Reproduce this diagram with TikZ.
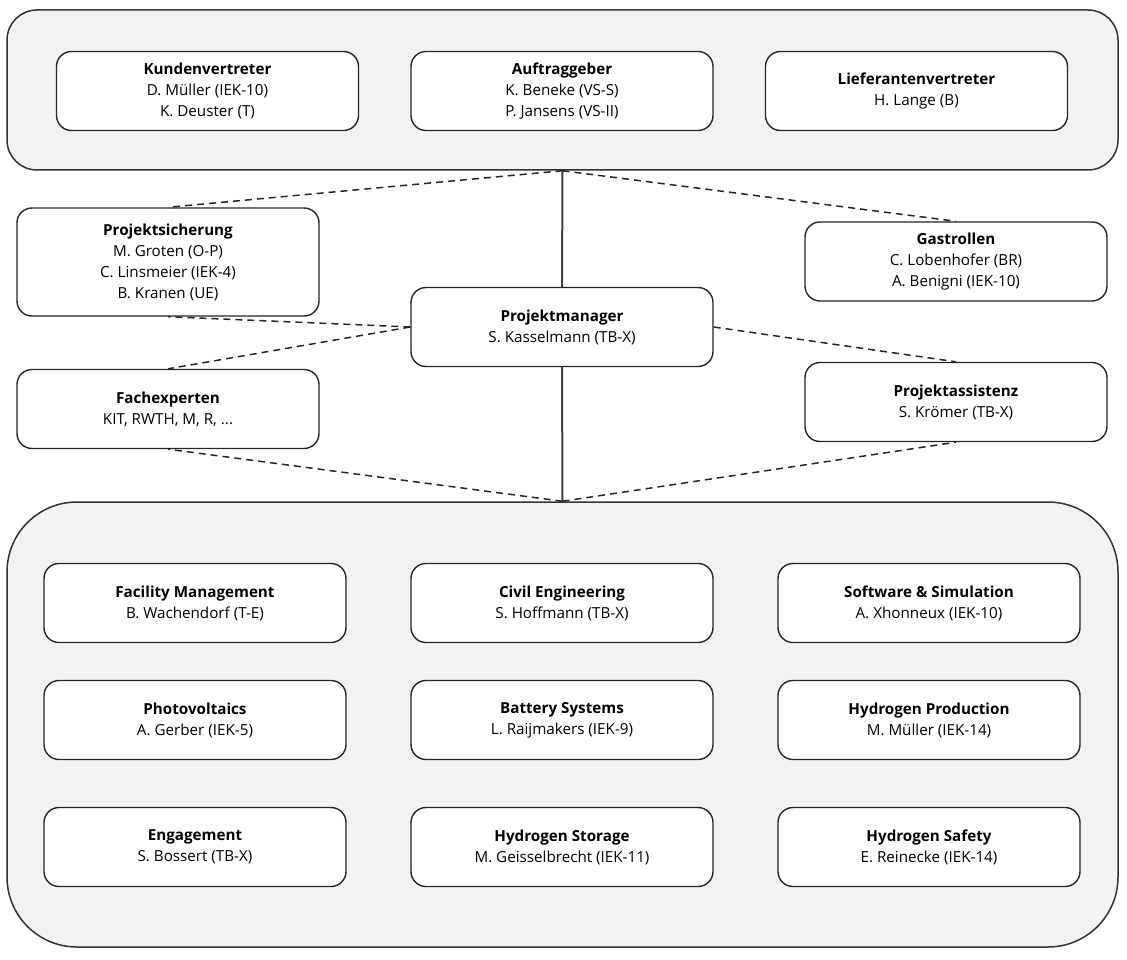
\documentclass[tikz,border=0pt]{standalone}
\usepackage{fontspec}
\setmainfont{Open Sans}
\begin{document}
\begin{tikzpicture}[x=1pt,y=-1pt,
  container/.style={draw=black!80, line width=1.5pt, fill=black!5, inner sep=0pt},
  rolebox/.style={draw=black!85, line width=1.4pt, fill=white, rounded corners=15pt,
     minimum width=302pt, minimum height=79pt, align=center, inner sep=0pt,
     font=\fontsize{15.2}{21}\selectfont},
  solidlink/.style={draw=black!75, line width=2pt},
  dashlink/.style={draw=black!85, line width=1.5pt, dash pattern=on 7pt off 5pt}]
\useasboundingbox (0,0) rectangle (1127,960);
% containers
\node[container, rounded corners=30pt, minimum width=1111pt, minimum height=160pt] (top) at (562.5,90) {};
\node[container, rounded corners=70pt, minimum width=1111pt, minimum height=445pt] (bot) at (562.5,724.5) {};
% top boxes
\node[rolebox] (kv) at (207.5,91) {\textbf{Kundenvertreter}\\D. Müller (IEK-10)\\K. Deuster (T)};
\node[rolebox] (ag) at (562,91) {\textbf{Auftraggeber}\\K. Beneke (VS-S)\\P. Jansens (VS-II)};
\node[rolebox] (lv) at (916.5,91) {\textbf{Lieferantenvertreter}\\H. Lange (B)};
% middle
\node[rolebox, minimum height=108pt] (ps) at (168,262) {\textbf{Projektsicherung}\\M. Groten (O-P)\\C. Linsmeier (IEK-4)\\B. Kranen (UE)};
\node[rolebox] (gr) at (956,261.5) {\textbf{Gastrollen}\\C. Lobenhofer (BR)\\A. Benigni (IEK-10)};
\node[rolebox] (pm) at (562,327) {\textbf{Projektmanager}\\S. Kasselmann (TB-X)};
\node[rolebox] (fe) at (168,409) {\textbf{Fachexperten}\\KIT, RWTH, M, R, ...};
\node[rolebox] (pa) at (956,402) {\textbf{Projektassistenz}\\S. Krömer (TB-X)};
% bottom boxes
\node[rolebox] (fm) at (195,603) {\textbf{Facility Management}\\B. Wachendorf (T-E)};
\node[rolebox] (ce) at (562,603) {\textbf{Civil Engineering}\\S. Hoffmann (TB-X)};
\node[rolebox] (ss) at (929,603) {\textbf{Software \& Simulation}\\A. Xhonneux (IEK-10)};
\node[rolebox] (pv) at (195,720) {\textbf{Photovoltaics}\\A. Gerber (IEK-5)};
\node[rolebox] (bs) at (562,720) {\textbf{Battery Systems}\\L. Raijmakers (IEK-9)};
\node[rolebox] (hp) at (929,720) {\textbf{Hydrogen Production}\\M. Müller (IEK-14)};
\node[rolebox] (en) at (195,847) {\textbf{Engagement}\\S. Bossert (TB-X)};
\node[rolebox] (hs) at (562,847) {\textbf{Hydrogen Storage}\\M. Geisselbrecht (IEK-11)};
\node[rolebox] (hy) at (929,847) {\textbf{Hydrogen Safety}\\E. Reinecke (IEK-14)};
% links
\draw[solidlink] (top.south) -- (pm.north);
\draw[solidlink] (pm.south) -- (bot.north);
\draw[dashlink] (top.south) -- (ps.north);
\draw[dashlink] (top.south) -- (gr.north);
\draw[dashlink] (pm.west) -- (ps.south);
\draw[dashlink] (pm.west) -- (fe.north);
\draw[dashlink] (pm.east) -- (pa.north);
\draw[dashlink] (bot.north) -- (fe.south);
\draw[dashlink] (bot.north) -- (pa.south);
\end{tikzpicture}
\end{document}
